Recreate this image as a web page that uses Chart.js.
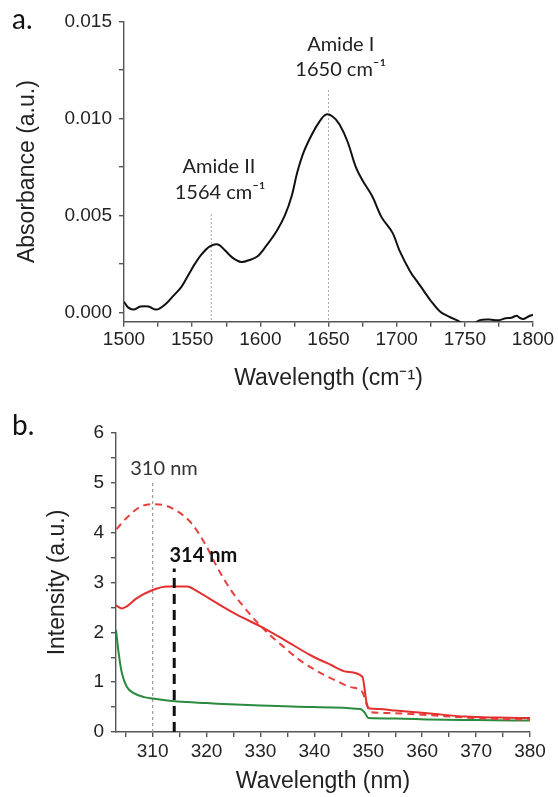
<!DOCTYPE html>
<html>
<head>
<meta charset="utf-8">
<script src="https://cdn.jsdelivr.net/npm/chart.js@4.4.0/dist/chart.umd.min.js"></script>
<style>
html,body{margin:0;padding:0;background:#fff;}
body{width:558px;height:797px;position:relative;overflow:hidden;}
.panel{position:absolute;left:0;width:558px;}
#pa{top:0;height:400px;}
#pb{top:400px;height:397px;}
.tag{position:absolute;left:12px;font:28px Lato,sans-serif;line-height:28px;color:#111;}
</style>
</head>
<body>
<div class="panel" id="pa"><canvas id="ftir"></canvas></div>
<div class="panel" id="pb"><canvas id="fluo"></canvas></div>
<div class="tag" style="top:4px">a.</div>
<div class="tag" style="top:410px">b.</div>
<script>
// ---- panel a: FTIR absorbance ----
const ftirX = [1500,1503,1507,1512,1518,1523,1526,1531,1536,1542,1547,1552,1557,1563,1569,1574,1580,1586,1592,1598,
  1604,1612,1618,1623,1627,1632,1638,1643,1648,1653,1658,1664,1670,1675,1682,1689,1697,1702,1710,1716,
  1720,1725,1732,1738,1744,1750,1756,1761,1768,1775,1780,1784,1788,1790,1793,1797,1800];
const ftirY = [0.00055,0.00026,0.00015,0.0003,0.0003,0.00015,0.0002,0.00046,0.00084,0.0013,0.0019,0.0025,0.003,0.0034,0.0035,0.0032,0.0028,0.0026,0.0027,0.0029,
  0.0034,0.0042,0.005,0.006,0.0072,0.0083,0.0092,0.0098,0.0102,0.0101,0.0097,0.0088,0.0075,0.0068,0.006,0.0049,0.0041,0.0032,0.0021,0.0015,
  0.0011,0.0006,0.00003,-0.0002,-0.0004,-0.0006,-0.0006,-0.0004,-0.00037,-0.0004,-0.0003,-0.00028,-0.00017,-0.00027,-0.00034,-0.0002,-0.00012];
const amidePeaks = [1564, 1650];
const amideTops  = [0.0051, 0.01147];
const ftirXMajor = [1500,1550,1600,1650,1700,1750,1800];
const ftirXMinor = [1525,1575,1625,1675,1725,1775];
const ftirYMajor = [0,0.005,0.010,0.015];
const ftirYMinor = [0.0025,0.0075,0.0125];

// ---- panel b: fluorescence intensity ----
const solidX = [303.2,304.3,305.2,307,310,312.7,316.4,318.3,322,325.7,330,334.4,339.3,343,346,348.9,349.7,350.2,352,355,361.5,368,374,380];
const solidY = [2.54,2.48,2.52,2.68,2.85,2.92,2.92,2.82,2.58,2.35,2.12,1.85,1.54,1.35,1.21,1.11,0.58,0.47,0.46,0.43,0.37,0.31,0.29,0.28];
const dashX  = [303.3,305.2,307.7,310,312.2,314.6,317.1,319.6,322,324.5,327,329.4,331.9,334.4,336.8,339.3,341.7,344.2,346.7,348.9,349.7,350.4,354,361,368,374,380];
const dashY  = [4.07,4.3,4.52,4.57,4.55,4.43,4.2,3.8,3.3,2.85,2.5,2.2,1.93,1.7,1.48,1.3,1.15,1.02,0.9,0.8,0.55,0.4,0.38,0.34,0.29,0.26,0.25];
const greenX = [303.2,303.7,304.3,305.2,306.5,308.4,310,312.7,314.6,320,330,339.8,348.5,349.4,350,355,361.5,370,380];
const greenY = [2.05,1.58,1.18,0.91,0.78,0.7,0.67,0.63,0.61,0.58,0.53,0.5,0.46,0.38,0.28,0.27,0.25,0.24,0.23];
const peakNm  = [310, 314];
const peakTop = [5.0, 3.28];
const fluoXMajor = [310,320,330,340,350,360,370,380];
const fluoXMinor = [305,315,325,335,345,355,365,375];
const fluoYMajor = [0,1,2,3,4,5,6];
const fluoYMinor = [0.5,1.5,2.5,3.5,4.5,5.5];

Chart.defaults.font.family = '"Liberation Sans", Arial, sans-serif';
Chart.defaults.color = '#222';

const pts = (xs, ys) => xs.map((x, i) => ({x, y: ys[i]}));

function axis(o) {
  return {
    type: 'linear', min: o.min, max: o.max,
    border: {color: '#555', width: 1.4},
    grid: {drawOnChartArea: false, drawTicks: true, tickLength: 5, color: '#555', lineWidth: 1.4},
    ticks: {autoSkip: false, maxRotation: 0, padding: o.pad, color: '#222', font: {size: 19},
      callback: v => o.major.includes(v) ? o.fmt(v) : ''},
    title: {display: true, text: o.title, color: '#222', font: {size: 23}, padding: o.titlePad},
    afterBuildTicks: s => { s.ticks = o.major.concat(o.minor).sort((a, b) => a - b).map(v => ({value: v})); },
    afterFit: s => { if (o.w) s.width = o.w; if (o.h) s.height = o.h; }
  };
}

// text labels placed in data coordinates
const labelPlugin = {
  id: 'peakLabels',
  afterDatasetsDraw(chart, args, opts) {
    const {ctx, scales: {x, y}} = chart;
    ctx.save();
    ctx.textAlign = 'center';
    ctx.textBaseline = 'middle';
    (opts.items || []).forEach(it => {
      ctx.font = it.font;
      ctx.fillStyle = it.color;
      ctx.fillText(it.text, x.getPixelForValue(it.x), y.getPixelForValue(it.y));
    });
    ctx.restore();
  }
};

const vline = (x, top, bottom, color, width, dash) => ({
  data: [{x, y: bottom}, {x, y: top}], borderColor: color, borderWidth: width, borderDash: dash,
  pointRadius: 0, fill: false
});

const lblFont = '20px Lato, "Open Sans", sans-serif';

new Chart(document.getElementById('ftir'), {
  type: 'line',
  data: {datasets: [
    {data: pts(ftirX, ftirY), borderColor: '#111', borderWidth: 2, pointRadius: 0, tension: 0.35},
    vline(amidePeaks[0], amideTops[0], -0.0006, '#aaa', 1, [2, 2]),
    vline(amidePeaks[1], amideTops[1], -0.0006, '#aaa', 1, [2, 2])
  ]},
  options: {
    responsive: true, maintainAspectRatio: false, animation: false, events: [],
    layout: {padding: {left: 0, top: 21.5, right: 25, bottom: 0}},
    plugins: {legend: {display: false}, tooltip: {enabled: false},
      peakLabels: {items: [
        {text: 'Amide I',   x: 1659,   y: 0.01383, font: lblFont, color: '#222'},
        {text: '1650 cm⁻¹', x: 1659,   y: 0.0125,  font: lblFont, color: '#222'},
        {text: 'Amide II',  x: 1569.7, y: 0.0075,  font: lblFont, color: '#222'},
        {text: '1564 cm⁻¹', x: 1570.5, y: 0.00616, font: lblFont, color: '#222'}
      ]}},
    scales: {
      x: axis({min: 1500, max: 1800, major: ftirXMajor, minor: ftirXMinor, fmt: v => String(v),
        pad: 2, title: 'Wavelength (cm⁻¹)', titlePad: {top: 0, bottom: 8}, h: 78.3}),
      y: axis({min: -0.00048, max: 0.015, major: ftirYMajor, minor: ftirYMinor, fmt: v => v.toFixed(3),
        pad: 7, title: 'Absorbance (a.u.)', titlePad: {top: 14, bottom: 0}, w: 124})
    }
  },
  plugins: [labelPlugin]
});

new Chart(document.getElementById('fluo'), {
  type: 'line',
  data: {datasets: [
    vline(peakNm[1], peakTop[1], 0, '#111', 3, [10, 6]),
    {data: pts(solidX, solidY), borderColor: '#e3302f', borderWidth: 2, pointRadius: 0, cubicInterpolationMode: 'monotone'},
    {data: pts(dashX, dashY), borderColor: '#e6403f', borderWidth: 2, borderDash: [7, 5], pointRadius: 0, cubicInterpolationMode: 'monotone'},
    {data: pts(greenX, greenY), borderColor: '#2a8a3e', borderWidth: 2, pointRadius: 0, cubicInterpolationMode: 'monotone'},
    vline(peakNm[0], peakTop[0], 0, '#999', 1.2, [3, 3])
  ]},
  options: {
    responsive: true, maintainAspectRatio: false, animation: false, events: [],
    layout: {padding: {left: 0, top: 33, right: 28, bottom: 0}},
    plugins: {legend: {display: false}, tooltip: {enabled: false},
      peakLabels: {items: [
        {text: '310 nm', x: 312.1, y: 5.29, font: lblFont, color: '#333'},
        {text: '314 nm', x: 319.4, y: 3.55, font: 'bold ' + lblFont, color: '#111'}
      ]}},
    scales: {
      x: axis({min: 303.2, max: 380, major: fluoXMajor, minor: fluoXMinor, fmt: v => String(v),
        pad: 3, title: 'Wavelength (nm)', titlePad: {top: 0, bottom: 2}, h: 65}),
      y: axis({min: 0, max: 6, major: fluoYMajor, minor: fluoYMinor, fmt: v => String(v),
        pad: 7, title: 'Intensity (a.u.)', titlePad: {top: 44, bottom: 0}, w: 116})
    }
  },
  plugins: [labelPlugin]
});
</script>
</body>
</html>
